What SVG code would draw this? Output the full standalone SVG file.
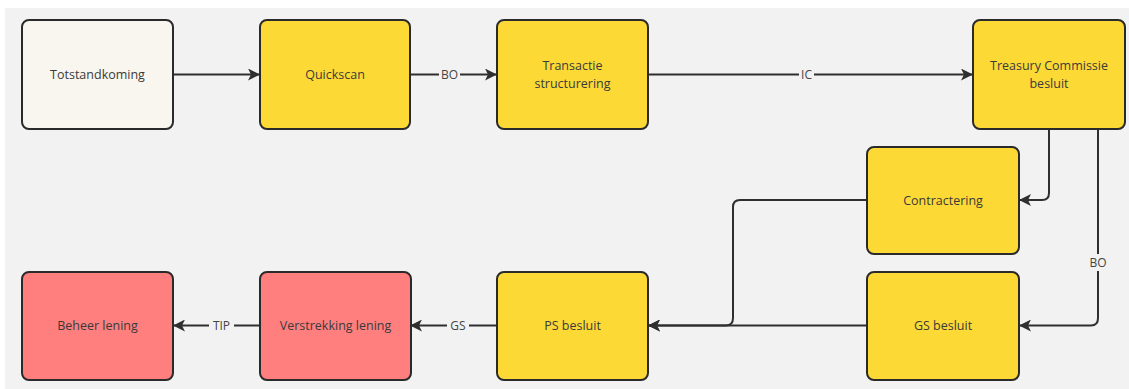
<svg xmlns="http://www.w3.org/2000/svg" width="1129" height="389" viewBox="0 0 1129 389">
<style>
.n{stroke:#2a2a2a;stroke-width:2}
.y{fill:#fdd935}
.w{fill:#f8f6ee}
.r{fill:#ff7f7f}
.t{font-family:"Open Sans","Noto Sans","Liberation Sans",sans-serif;font-size:12.5px;fill:#3a3a3a;text-anchor:middle}
.c{fill:none;stroke:#2f2f2f;stroke-width:2}
.lb{font-family:"Open Sans","Noto Sans","Liberation Sans",sans-serif;font-size:12px;fill:#444;text-anchor:middle}
.lbg{fill:#f2f2f2}
</style>
<defs>
<marker id="ah" viewBox="0 0 12 12" refX="11" refY="6" markerWidth="12" markerHeight="12" markerUnits="userSpaceOnUse" orient="auto">
<path d="M0,0 L12,6 L0,12 L3,6 Z" fill="#2f2f2f"/>
</marker>
</defs>
<rect x="5" y="8" width="1124" height="381" fill="#f2f2f2"/>
<g id="connectors">
<path class="c" d="M173,74.5 H259" marker-end="url(#ah)"/>
<path class="c" d="M410,74.5 H496" marker-end="url(#ah)"/>
<path class="c" d="M648,74.5 H972" marker-end="url(#ah)"/>
<path class="c" d="M1049,129 V193 Q1049,200 1042,200 H1020" marker-end="url(#ah)"/>
<path class="c" d="M1098,129 V318 Q1098,325.5 1091,325.5 H1020" marker-end="url(#ah)"/>
<path class="c" d="M867,200 H740 Q733,200 733,207 V318 Q733,325.5 726,325.5 H649" marker-end="url(#ah)"/>
<path class="c" d="M867,325.5 H649" marker-end="url(#ah)"/>
<path class="c" d="M497,325.5 H411" marker-end="url(#ah)"/>
<path class="c" d="M260,325.5 H174" marker-end="url(#ah)"/>
<rect class="lbg" x="439" y="66" width="21" height="17"/>
<text class="lb" x="449.5" y="79">BO</text>
<rect class="lbg" x="799" y="66" width="15" height="17"/>
<text class="lb" x="806.5" y="79">IC</text>
<rect class="lbg" x="1088" y="254" width="21" height="17"/>
<text class="lb" x="1098" y="267">BO</text>
<rect class="lbg" x="447" y="317" width="22" height="17"/>
<text class="lb" x="458" y="330">GS</text>
<rect class="lbg" x="209" y="317" width="25" height="17"/>
<text class="lb" x="221.5" y="330">TIP</text>
</g>
<g id="totstandkoming"><rect class="n w" x="22" y="20" width="151" height="109" rx="7"/><text class="t" x="97.5" y="79">Totstandkoming</text></g>
<g id="quickscan"><rect class="n y" x="260" y="20" width="150" height="109" rx="7"/><text class="t" x="335" y="79">Quickscan</text></g>
<g id="transactie"><rect class="n y" x="497" y="20" width="151" height="109" rx="7"/><text class="t" x="572.5" y="70">Transactie</text><text class="t" x="572.5" y="88">structurering</text></g>
<g id="treasury"><rect class="n y" x="973" y="20" width="152" height="109" rx="7"/><text class="t" x="1049" y="70">Treasury Commissie</text><text class="t" x="1049" y="88">besluit</text></g>
<g id="contractering"><rect class="n y" x="867" y="147" width="152" height="107" rx="7"/><text class="t" x="943" y="205">Contractering</text></g>
<g id="gs-besluit"><rect class="n y" x="867" y="272" width="152" height="108" rx="7"/><text class="t" x="943" y="330">GS besluit</text></g>
<g id="ps-besluit"><rect class="n y" x="497" y="272" width="151" height="108" rx="7"/><text class="t" x="572.5" y="330">PS besluit</text></g>
<g id="verstrekking"><rect class="n r" x="260" y="272" width="151" height="108" rx="7"/><text class="t" x="335.5" y="330">Verstrekking lening</text></g>
<g id="beheer"><rect class="n r" x="22" y="272" width="151" height="108" rx="7"/><text class="t" x="97.5" y="330">Beheer lening</text></g>
</svg>
